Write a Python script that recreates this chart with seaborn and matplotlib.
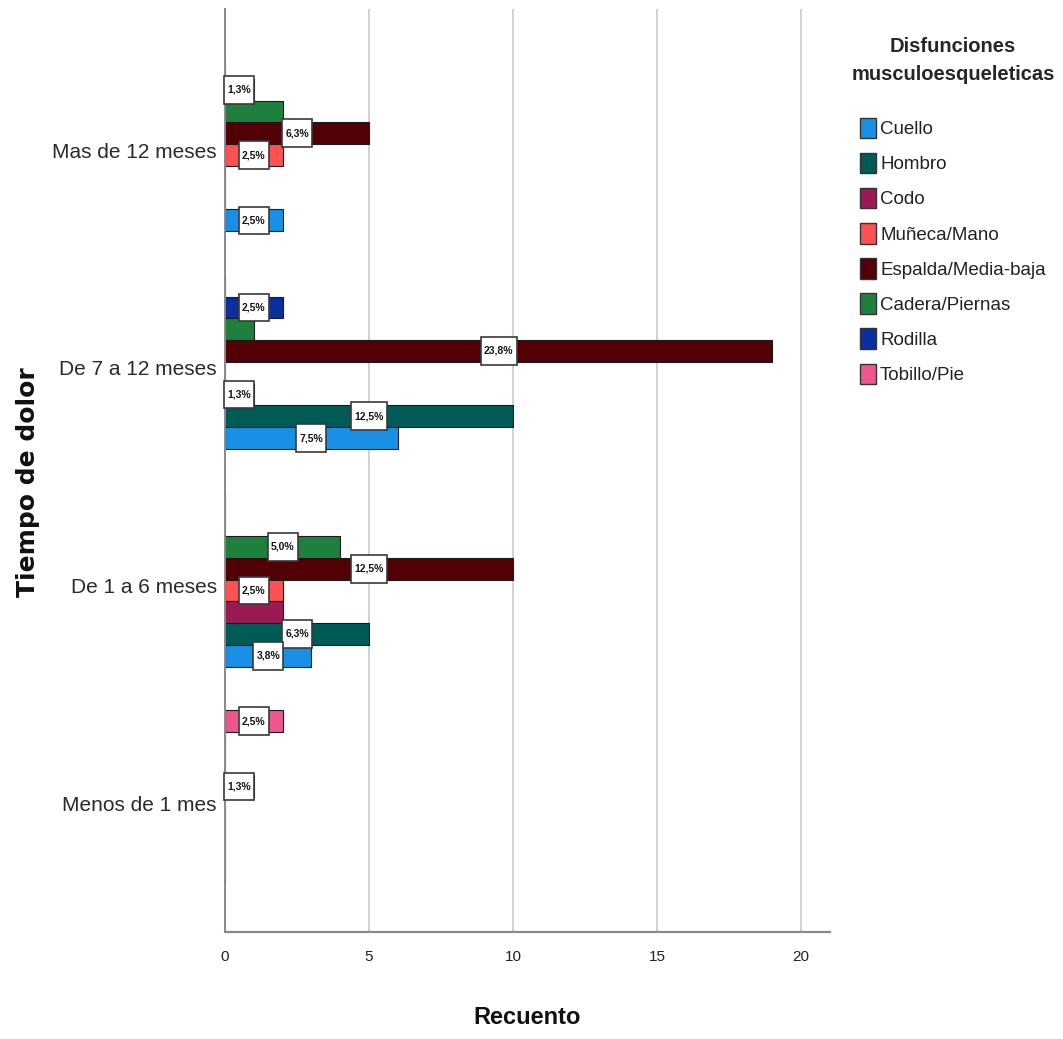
import numpy as np
import pandas as pd
import matplotlib
matplotlib.use("Agg")
import matplotlib.pyplot as plt
import matplotlib.transforms as mtransforms
from matplotlib.patches import Patch
from matplotlib.path import Path
import seaborn as sns

# Pain duration groups (top to bottom) and musculoskeletal regions
categories = ["Mas de 12 meses", "De 7 a 12 meses", "De 1 a 6 meses", "Menos de 1 mes"]
series = ["Cuello", "Hombro", "Codo", "Muñeca/Mano", "Espalda/Media-baja",
          "Cadera/Piernas", "Rodilla", "Tobillo/Pie"]

# Counts per region, in the order of `categories`
cuello = [2, 6, 3, 0]
hombro = [0, 10, 5, 0]
codo = [0, 1, 2, 0]
muneca = [2, 0, 2, 0]
espalda = [5, 19, 10, 1]
cadera = [2, 1, 4, 0]
rodilla = [1, 2, 0, 0]
tobillo = [0, 0, 0, 2]

colors = ["#1a8fe6", "#005a56", "#9c1a52", "#ff5052", "#520006",
          "#1f7f3c", "#0b2f9c", "#ee5690"]

x_ticks = [0, 5, 10, 15, 20]

# Bars whose percentage label is left off (overlapping neighbours)
unlabeled = [("Mas de 12 meses", "Cadera/Piernas"),
             ("De 7 a 12 meses", "Cadera/Piernas"),
             ("De 1 a 6 meses", "Codo")]

counts = [cuello, hombro, codo, muneca, espalda, cadera, rodilla, tobillo]
rows = []
for name, vals in zip(series, counts):
    for cat, v in zip(categories, vals):
        rows.append({"Tiempo": cat, "Zona": name, "Recuento": v})
df = pd.DataFrame(rows)
total = df["Recuento"].sum()

sns.set_theme(style="white")
font_main = ["Liberation Sans", "DejaVu Sans"]
plt.rcParams["font.family"] = font_main

fig = plt.figure(figsize=(10.63, 10.39), dpi=100)
ax = fig.add_axes([225 / 1063, 1 - 932 / 1039, 605 / 1063, 923 / 1039])

hue_draw = series[::-1]  # first region sits at the bottom of each group
palette = dict(zip(series, colors))
sns.barplot(data=df, y="Tiempo", x="Recuento", hue="Zona", order=categories,
            hue_order=hue_draw, palette=palette, orient="h", errorbar=None,
            width=0.8, edgecolor="#1c1c1c", linewidth=0.8, legend=False,
            saturation=1, ax=ax)

ax.set_xlim(0, 21)
ax.set_ylim(3.619, -0.621)
ax.set_xticks(x_ticks)
ax.set_xticklabels([str(t) for t in x_ticks], fontsize=11, color="#222222")
ax.tick_params(axis="x", length=0, pad=13)
ax.tick_params(axis="y", length=0, pad=6, labelsize=15, labelcolor="#2a2a2a")
# category names sit slightly below the centre of their bar group
shift = mtransforms.ScaledTranslation(0, -6 / 100, fig.dpi_scale_trans)
for lab in ax.get_yticklabels():
    lab.set_transform(lab.get_transform() + shift)
ax.xaxis.grid(True, color="#d2d2d2", linewidth=1.4)
ax.yaxis.grid(False)
ax.set_axisbelow(True)
for side in ["top", "right"]:
    ax.spines[side].set_visible(False)
ax.spines["left"].set_color("#8a8a8a")
ax.spines["left"].set_linewidth(1.4)
ax.spines["bottom"].set_color("#8a8a8a")
ax.spines["bottom"].set_linewidth(1.6)

ax.set_xlabel("Recuento", fontsize=17, fontweight="bold", color="#111111")
ax.xaxis.set_label_coords(0.5, -0.08)
ax.set_ylabel("Tiempo de dolor", fontsize=18, fontweight="bold",
              family="DejaVu Sans", color="#111111")
ax.yaxis.set_label_coords(-0.305, 0.4875)


def label_box(x0, y0, width, height, mutation_size):
    px = 0.3 * mutation_size
    py = 0.85 * mutation_size
    verts = [(x0 - px, y0 - py), (x0 + width + px, y0 - py),
             (x0 + width + px, y0 + height + py), (x0 - px, y0 + height + py),
             (x0 - px, y0 - py)]
    codes = [Path.MOVETO, Path.LINETO, Path.LINETO, Path.LINETO, Path.CLOSEPOLY]
    return Path(verts, codes)


def pct_text(v):
    p = np.floor(v / total * 1000 + 0.5) / 10
    return f"{p:.1f}".replace(".", ",") + "%"


skip = set(unlabeled)
for zona, cont in zip(hue_draw, ax.containers):
    for bar in cont:
        v = bar.get_width()
        if v <= 0:
            continue
        yc = bar.get_y() + bar.get_height() / 2
        cat = categories[int(round(yc))]
        if (cat, zona) in skip:
            continue
        ax.text(v / 2, yc, pct_text(v), ha="center", va="center",
                fontsize=7.5, fontweight="bold", color="#151515", zorder=5,
                bbox=dict(boxstyle=label_box, fc="white", ec="#3a3a3a", lw=1.2))

handles = [Patch(facecolor=c, edgecolor="#333333", linewidth=1.0) for c in colors]
leg = fig.legend(handles, series, loc="upper left",
                 bbox_to_anchor=(842 / 1063, 1 - 28 / 1039),
                 frameon=False, fontsize=13.5, handlelength=0.85, handleheight=1.3,
                 handletextpad=0.2, labelspacing=0.78, borderpad=0,
                 title="Disfunciones\nmusculoesqueleticas",
                 title_fontproperties={"size": 14.5, "weight": "bold",
                                       "family": font_main})
for t in leg.get_texts():
    t.set_color("#222222")
leg.get_title().set_multialignment("center")
leg.get_title().set_linespacing(1.6)
leg._legend_box.sep = 24

fig.savefig("out.png", dpi=100)
